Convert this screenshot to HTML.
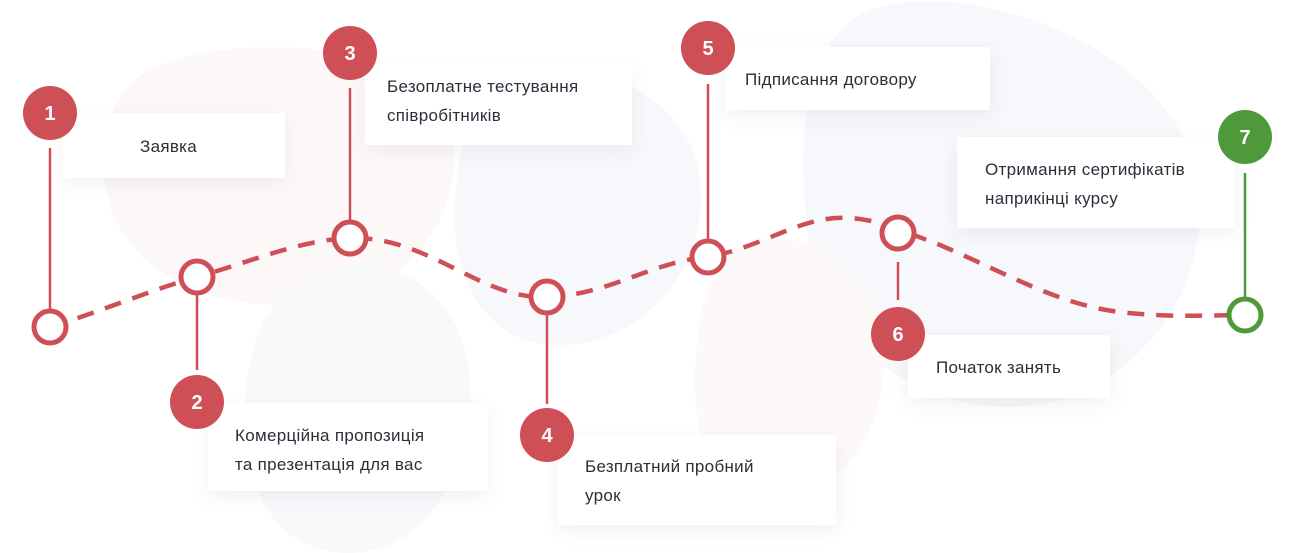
<!DOCTYPE html>
<html><head><meta charset="utf-8"><style>
html,body{margin:0;padding:0;background:#fff;}
body{width:1296px;height:553px;position:relative;overflow:hidden;font-family:"Liberation Sans",sans-serif;}
.box{position:absolute;background:#fff;box-shadow:0 6px 18px rgba(40,50,80,0.07);color:#2b2f3a;font-size:17px;line-height:29px;letter-spacing:0.3px;box-sizing:border-box;}
svg{position:absolute;left:0;top:0;}
</style></head><body>
<svg width="1296" height="553">
<path d="M150,70 C230,30 420,40 450,120 C470,200 420,300 300,305 C180,310 110,250 105,180 C100,120 120,85 150,70Z" fill="#fdf8f8"/>
<path d="M870,10 C960,-20 1120,30 1180,130 C1230,230 1180,360 1060,400 C950,430 830,360 810,250 C795,150 800,40 870,10Z" fill="#f7f8fb"/>
<path d="M500,80 C580,50 690,90 700,180 C710,270 640,345 560,345 C480,345 450,270 455,200 C460,140 470,95 500,80Z" fill="#f7f8fb"/>
<path d="M330,270 C400,250 470,300 470,390 C470,480 420,553 350,553 C270,553 240,480 245,400 C250,320 280,285 330,270Z" fill="#f8f9fb"/>
<path d="M760,240 C840,230 900,300 880,400 C860,480 790,520 740,500 C690,470 690,380 700,320 C710,270 730,245 760,240Z" fill="#fdf9f9"/>
</svg>
<div class="box" style="left:63px;top:113px;width:222px;height:65px;padding:19px 0 0 77px;">Заявка</div>
<div class="box" style="left:365px;top:64px;width:267px;height:81px;padding:8px 0 0 22px;">Безоплатне тестування<br>співробітників</div>
<div class="box" style="left:725px;top:47px;width:265px;height:63px;padding:18px 0 0 20px;">Підписання договору</div>
<div class="box" style="left:957px;top:137px;width:278px;height:91px;padding:18px 0 0 28px;">Отримання сертифікатів<br>наприкінці курсу</div>
<div class="box" style="left:908px;top:335px;width:202px;height:63px;padding:18px 0 0 28px;">Початок занять</div>
<div class="box" style="left:208px;top:403px;width:280px;height:88px;padding:18px 0 0 27px;">Комерційна пропозиція<br>та презентація для вас</div>
<div class="box" style="left:558px;top:435px;width:278px;height:90px;padding:17px 0 0 27px;">Безплатний пробний<br>урок</div>
<svg width="1296" height="553">
<g stroke="#cf4f57" stroke-width="2.5">
<line x1="50" y1="148" x2="50" y2="312"/>
<line x1="197" y1="294" x2="197" y2="370"/>
<line x1="350" y1="88" x2="350" y2="222"/>
<line x1="547" y1="314" x2="547" y2="404"/>
<line x1="708" y1="84" x2="708" y2="241"/>
<line x1="898" y1="262" x2="898" y2="300"/>
</g>
<line x1="1245" y1="173" x2="1245" y2="299" stroke="#4e9a3b" stroke-width="2.5"/>
<path d="M50,327 C100,312 150,290 197,277 C250,262 300,240 350,238 C430,236 480,300 547,297 C610,295 650,262 708,257 C770,245 800,215 850,218 C880,220 900,230 940,245 C1010,275 1060,305 1120,312 C1170,318 1210,315 1245,315" fill="none" stroke="#cf4f57" stroke-width="4.5" stroke-dasharray="17 12"/>
<g fill="#fff" stroke="#cf4f57" stroke-width="5">
<circle cx="50" cy="327" r="16"/>
<circle cx="197" cy="277" r="16"/>
<circle cx="350" cy="238" r="16"/>
<circle cx="547" cy="297" r="16"/>
<circle cx="708" cy="257" r="16"/>
<circle cx="898" cy="233" r="16"/>
</g>
<circle cx="1245" cy="315" r="16" fill="#fff" stroke="#4e9a3b" stroke-width="5"/>
<g fill="#cf4f57">
<circle cx="50" cy="113" r="27"/>
<circle cx="197" cy="402" r="27"/>
<circle cx="350" cy="53" r="27"/>
<circle cx="547" cy="435" r="27"/>
<circle cx="708" cy="48" r="27"/>
<circle cx="898" cy="334" r="27"/>
</g>
<circle cx="1245" cy="137" r="27" fill="#4e9a3b"/>
<g fill="#fff" font-family="Liberation Sans, sans-serif" font-weight="bold" font-size="20" text-anchor="middle">
<text x="50" y="120">1</text><text x="197" y="409">2</text><text x="350" y="60">3</text>
<text x="547" y="442">4</text><text x="708" y="55">5</text><text x="898" y="341">6</text><text x="1245" y="144">7</text>
</g>
</svg>
</body></html>
